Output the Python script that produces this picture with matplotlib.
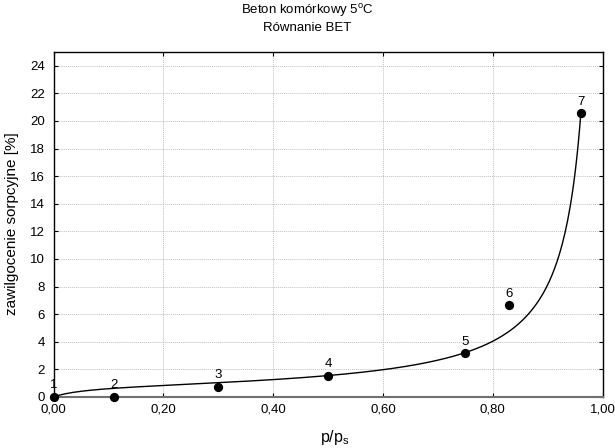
import numpy as np
import matplotlib
matplotlib.use("Agg")
import matplotlib.pyplot as plt
from matplotlib.ticker import FuncFormatter

plt.rcParams['font.family'] = ['Liberation Sans', 'DejaVu Sans']

# measured points (p/ps, moisture %)
point_labels = ["1", "2", "3", "4", "5", "6", "7"]
rel_pressure = [0.0, 0.11, 0.30, 0.50, 0.75, 0.83, 0.96]
moisture = [0.0, 0.0, 0.75, 1.55, 3.17, 6.64, 20.56]

# BET equation parameters (estimated from the fitted curve)
vm = 0.82
c_bet = 17.0


def bet(x):
    return vm * c_bet * x / ((1 - x) * (1 - x + c_bet * x))


fig = plt.figure(figsize=(6.15, 4.48), dpi=100)
ax = fig.add_axes([0.087, 0.114, 0.893, 0.77])

xs = np.linspace(0, max(rel_pressure), 400)
ax.plot(xs, bet(xs), color="black", lw=1.0, zorder=3)
ax.scatter(rel_pressure, moisture, s=32, color="black", zorder=4, clip_on=False)
for lab, x, y in zip(point_labels, rel_pressure, moisture):
    ax.annotate(lab, (x, y), xytext=(0, 4), textcoords="offset points",
                ha="center", va="bottom", fontsize=9.5)

ax.set_xlim(0, 1.0)
ax.set_ylim(0, 25)
ax.set_xticks(np.arange(0, 1.01, 0.2))
ax.set_yticks(np.arange(0, 25, 2))
ax.xaxis.set_major_formatter(FuncFormatter(lambda v, p: ("%.2f" % v).replace(".", ",")))
ax.grid(True, color="#c0c0c0", ls=(0, (1, 1)), lw=0.7)
ax.tick_params(direction="in", length=3, top=True, right=True, labelsize=9.5)
ax.tick_params(axis="x", pad=5)
ax.tick_params(axis="y", pad=6)
for s in ax.spines.values():
    s.set_linewidth(1.0)
ax.spines["bottom"].set_color("#707070")
ax.spines["bottom"].set_linewidth(1.5)

fig.text(0.5, 0.976, "Beton komórkowy 5$^{\\mathregular{o}}$C", ha="center", va="center", fontsize=9.5)
fig.text(0.5, 0.938, "Równanie BET", ha="center", va="center", fontsize=9.5)
fig.text(0.545, 0.024, "p/p$_\\mathregular{s}$", ha="center", va="center", fontsize=11.5)
fig.text(0.02, 0.5, "zawilgocenie sorpcyjne [%]", ha="center", va="center",
         rotation=90, fontsize=11)

fig.savefig("out.png", dpi=100)
